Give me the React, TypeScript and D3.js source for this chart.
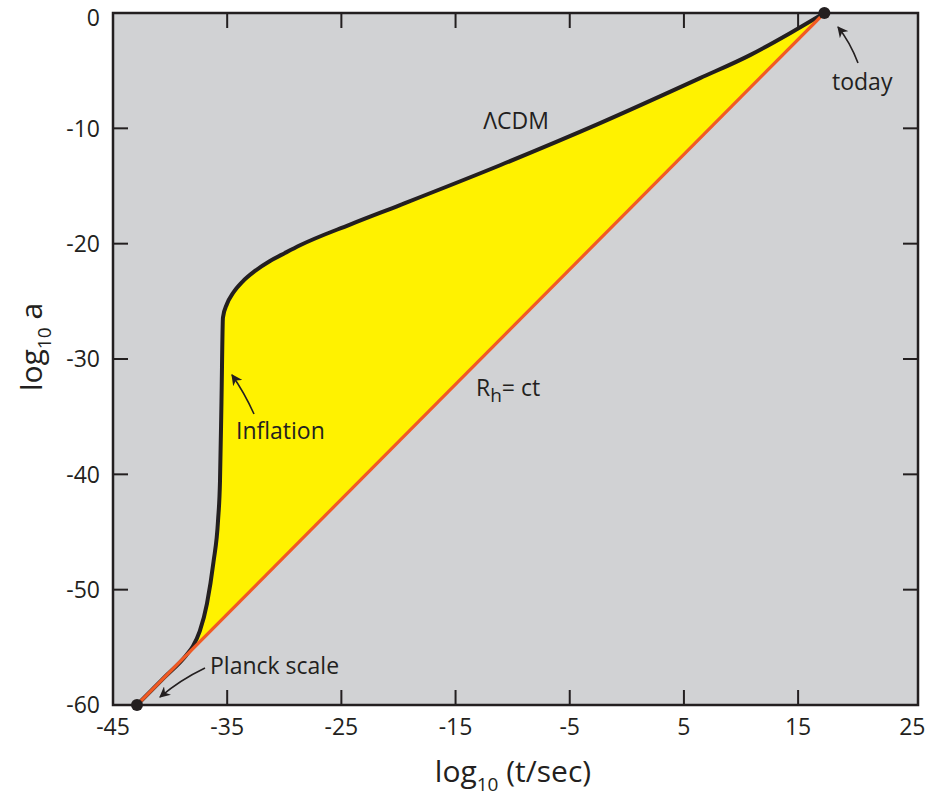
import React from "react";
import * as d3 from "d3";

// values
const xTicks = [-45, -35, -25, -15, -5, 5, 15, 25];
const yTicks = [0, -10, -20, -30, -40, -50, -60];

const planck = { t: -42.9, a: -60 };
const today = { t: 17.3, a: 0 };

// LambdaCDM expansion history (log10 t, log10 a)
const lcdmT = [-42.9, -40.5, -38.6, -38.0, -37.4, -36.77, -36.2, -35.8, -35.63, -35.5, -35.37, -35.02, -34.49, -33.61, -32.56, -31.25, -29.94, -28.62, -24.24, -19.86, -11.1, -2.34, 6.41, 10.79, 14.29, 17.3];
const lcdmA = [-60, -57.6, -55.7, -54.9, -53.6, -51.2, -47.6, -44.0, -40.6, -33.7, -26.4, -25.23, -24.28, -23.24, -22.36, -21.5, -20.81, -20.14, -18.34, -16.65, -13.2, -9.55, -5.65, -3.65, -1.75, 0];

const W = 931;
const H = 799;
const margin = { left: 113, right: 13, top: 13, bottom: 94 };

const font = "'Open Sans', 'Noto Sans', sans-serif";
const ink = "#231f20";

export default function App() {
  const xScale = d3.scaleLinear().domain([-45, 25.5]).range([margin.left, W - margin.right]);
  const yScale = d3.scaleLinear().domain([-60, 0]).range([H - margin.bottom, margin.top]);

  const left = margin.left;
  const right = W - margin.right;
  const top = margin.top;
  const bottom = H - margin.bottom;

  const lcdm = lcdmT.map((t, i) => ({ t, a: lcdmA[i] }));
  const line = d3
    .line<{ t: number; a: number }>()
    .x(d => xScale(d.t))
    .y(d => yScale(d.a))
    .curve(d3.curveMonotoneX);
  const lcdmPath = line(lcdm) as string;
  const fillPath = lcdmPath + `L${xScale(planck.t)},${yScale(planck.a)}Z`;

  const tickLen = 15;

  return (
    <svg width={W} height={H} style={{ position: "absolute", left: 0, top: 0 }}>
      <defs>
        <clipPath id="plotClip">
          <rect x={left} y={top} width={right - left} height={bottom - top} />
        </clipPath>
        <marker id="arrow" viewBox="0 0 10 10" refX="9" refY="5" markerWidth="11" markerHeight="11" orient="auto" markerUnits="userSpaceOnUse">
          <path d="M0,0 L10,5 L0,10 L3,5 Z" fill={ink} />
        </marker>
      </defs>

      <rect x={left} y={top} width={right - left} height={bottom - top} fill="#d1d2d4" />

      <g clipPath="url(#plotClip)">
        <path d={fillPath} fill="#fff200" stroke="none" />
        <path d={lcdmPath} fill="none" stroke={ink} strokeWidth={4} strokeLinejoin="round" />
        <line
          x1={xScale(planck.t)}
          y1={yScale(planck.a)}
          x2={xScale(today.t)}
          y2={yScale(today.a)}
          stroke="#f15a24"
          strokeWidth={3.2}
        />
      </g>

      {/* ticks on all four sides */}
      {xTicks.slice(1, -1).map(v => (
        <g key={"xt" + v}>
          <line x1={xScale(v)} x2={xScale(v)} y1={bottom} y2={bottom - tickLen} stroke={ink} strokeWidth={2} />
          <line x1={xScale(v)} x2={xScale(v)} y1={top} y2={top + tickLen} stroke={ink} strokeWidth={2} />
        </g>
      ))}
      {yTicks.slice(1, -1).map(v => (
        <g key={"yt" + v}>
          <line x1={left} x2={left + tickLen} y1={yScale(v)} y2={yScale(v)} stroke={ink} strokeWidth={2} />
          <line x1={right} x2={right - tickLen} y1={yScale(v)} y2={yScale(v)} stroke={ink} strokeWidth={2} />
        </g>
      ))}

      <rect x={left} y={top} width={right - left} height={bottom - top} fill="none" stroke={ink} strokeWidth={2.5} />

      {/* points */}
      <circle cx={xScale(planck.t)} cy={yScale(planck.a)} r={6} fill={ink} />
      <circle cx={xScale(today.t)} cy={yScale(today.a)} r={6} fill={ink} />

      {/* tick labels */}
      {xTicks.map(v => (
        <text key={"xl" + v} x={xScale(v)} y={bottom + 30} textAnchor="middle" fontFamily={font} fontSize={23} fill={ink}>
          {v}
        </text>
      ))}
      {yTicks.map(v => (
        <text key={"yl" + v} x={left - 13} y={Math.max(yScale(v), top + 5)} dy="0.36em" textAnchor="end" fontFamily={font} fontSize={23} fill={ink}>
          {v}
        </text>
      ))}

      {/* axis titles */}
      <text x={513} y={782} textAnchor="middle" fontFamily={font} fontSize={30} fill={ink}>
        log
        <tspan fontSize={19} dy={9}>10</tspan>
        <tspan dy={-9}> (t/sec)</tspan>
      </text>
      <text transform="translate(42,347) rotate(-90)" textAnchor="middle" fontFamily={font} fontSize={30} fill={ink}>
        log
        <tspan fontSize={19} dy={9}>10</tspan>
        <tspan dy={-9}> a</tspan>
      </text>

      {/* annotations */}
      <text x={516} y={129} textAnchor="middle" fontFamily={font} fontSize={23} fill={ink}>
        ΛCDM
      </text>
      <text x={476} y={396} fontFamily={font} fontSize={23} fill={ink}>
        R<tspan fontSize={19} dy={6}>h</tspan>
        <tspan dy={-6}>= ct</tspan>
      </text>
      <text x={236} y={439} fontFamily={font} fontSize={23} fill={ink}>
        Inflation
      </text>
      <text x={832} y={90} fontFamily={font} fontSize={23} fill={ink}>
        today
      </text>
      <text x={210} y={674} fontFamily={font} fontSize={23} fill={ink}>
        Planck scale
      </text>

      {/* arrows */}
      <path d="M254,414 Q244,392 232,375" fill="none" stroke={ink} strokeWidth={1.6} markerEnd="url(#arrow)" />
      <path d="M858,63 Q850,42 838,27" fill="none" stroke={ink} strokeWidth={1.6} markerEnd="url(#arrow)" />
      <path d="M205,668 Q180,680 160,697" fill="none" stroke={ink} strokeWidth={1.6} markerEnd="url(#arrow)" />
    </svg>
  );
}
